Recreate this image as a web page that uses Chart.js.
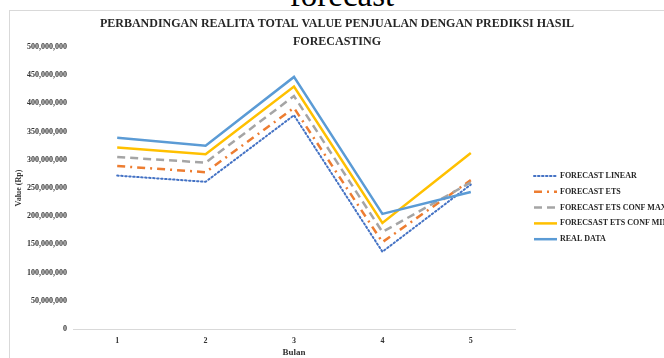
<!DOCTYPE html>
<html lang="en">
<head>
    <meta charset="UTF-8">
    <title>Perbandingan Realita Total Value Penjualan</title>
    <style>
        body {
            margin: 0;
            background-color: #fff;
            overflow: hidden;
            width: 664px;
            height: 358px;
            position: relative;
        }

        /* cut-off caption above the chart */
        #caption {
            position: absolute;
            left: 10px;
            width: 664px;
            top: -21px;
            text-align: center;
            font-family: "Liberation Serif", serif;
            font-size: 33px;
            line-height: 32px;
            color: #000;
        }

        /* chart frame */
        #frame {
            position: absolute;
            left: 9px;
            top: 10px;
            width: 720px;
            height: 420px;
            border: 1px solid #d9d9d9;
        }

        #chart-container {
            position: absolute;
            left: 0;
            top: 0;
            width: 674px;
            height: 358px;
        }
    </style>
</head>
<body>
    <div id="caption">forecast</div>
    <div id="frame"></div>
    <div id="chart-container">
        <canvas id="myChart" width="674" height="358"></canvas>
    </div>

    <script src="https://cdn.jsdelivr.net/npm/chart.js"></script>
    <script>
        // Data
        const months = ['1', '2', '3', '4', '5'];
        const forecastLinear = [272000000, 261000000, 379000000, 137000000, 256000000];
        const forecastEts = [289000000, 278000000, 392000000, 154000000, 264000000];
        const forecastEtsMax = [305000000, 295000000, 413000000, 172000000, 260000000];
        const forecastEtsMin = [322000000, 310000000, 430000000, 188000000, 312000000];
        const realData = [339000000, 325000000, 447000000, 204000000, 243000000];

        const titleLines = ['PERBANDINGAN REALITA TOTAL VALUE PENJUALAN DENGAN PREDIKSI HASIL', 'FORECASTING'];
        const seriesNames = ['FORECAST LINEAR', 'FORECAST ETS', 'FORECAST ETS CONF MAX', 'FORECSAST ETS CONF MIN', 'REAL DATA'];

        const serif = '"Liberation Serif", "Times New Roman", serif';

        function formatNumber(v) {
            return String(v).replace(/\B(?=(\d{3})+(?!\d))/g, ',');
        }

        // Title and legend drawn on top of the chart
        const overlayPlugin = {
            id: 'overlay',
            afterDraw(chart) {
                const ctx = chart.ctx;
                ctx.save();
                ctx.fillStyle = '#262626';
                ctx.font = 'bold 12px ' + serif;
                ctx.textAlign = 'center';
                ctx.textBaseline = 'middle';
                titleLines.forEach((line, i) => {
                    ctx.fillText(line, 337, 24 + i * 18);
                });

                // legend
                ctx.font = 'bold 8px ' + serif;
                ctx.textAlign = 'left';
                chart.data.datasets.forEach((ds, i) => {
                    const y = 176 + i * 15.8;
                    ctx.strokeStyle = ds.borderColor;
                    ctx.lineWidth = ds.borderWidth;
                    ctx.lineCap = ds.borderCapStyle || 'butt';
                    ctx.setLineDash(ds.borderDash || []);
                    ctx.beginPath();
                    ctx.moveTo(534, y);
                    ctx.lineTo(557, y);
                    ctx.stroke();
                    ctx.setLineDash([]);
                    ctx.fillStyle = '#262626';
                    ctx.fillText(ds.label, 560, y);
                });
                ctx.restore();
            }
        };

        const ctx = document.getElementById('myChart').getContext('2d');
        const myChart = new Chart(ctx, {
            type: 'line',
            data: {
                labels: months,
                datasets: [{
                    label: seriesNames[0],
                    data: forecastLinear,
                    borderColor: '#4472c4',
                    borderWidth: 2,
                    borderDash: [1.5, 2.5],
                    borderCapStyle: 'round',
                    order: 5
                }, {
                    label: seriesNames[1],
                    data: forecastEts,
                    borderColor: '#ed7d31',
                    borderWidth: 2.5,
                    borderDash: [8, 5, 2, 5],
                    order: 4
                }, {
                    label: seriesNames[2],
                    data: forecastEtsMax,
                    borderColor: '#a5a5a5',
                    borderWidth: 2.5,
                    borderDash: [8, 5],
                    order: 3
                }, {
                    label: seriesNames[3],
                    data: forecastEtsMin,
                    borderColor: '#ffc000',
                    borderWidth: 2.5,
                    order: 2
                }, {
                    label: seriesNames[4],
                    data: realData,
                    borderColor: '#5b9bd5',
                    borderWidth: 2.5,
                    order: 1
                }]
            },
            options: {
                responsive: false,
                animation: false,
                layout: {
                    padding: { left: 9, right: 159, top: 47, bottom: 0 }
                },
                elements: {
                    point: { radius: 0 },
                    line: { tension: 0, fill: false }
                },
                scales: {
                    x: {
                        offset: true,
                        grid: { display: false, drawTicks: false },
                        border: { display: true, color: '#d9d9d9', width: 1 },
                        ticks: {
                            padding: 7,
                            color: '#333',
                            font: { family: serif, size: 8, weight: 'bold' }
                        },
                        title: {
                            display: true,
                            text: 'Bulan',
                            color: '#333',
                            padding: 0,
                            font: { family: serif, size: 9, weight: 'bold' }
                        },
                        afterFit(scale) { scale.height = 29; }
                    },
                    y: {
                        min: 0,
                        max: 500000000,
                        grid: { display: false, drawTicks: false },
                        border: { display: false },
                        ticks: {
                            stepSize: 50000000,
                            padding: 6,
                            color: '#333',
                            font: { family: serif, size: 8, weight: 'bold' },
                            callback: (v) => formatNumber(v)
                        },
                        title: {
                            display: true,
                            text: 'Value (Rp)',
                            color: '#333',
                            padding: { top: 5, bottom: 0 },
                            font: { family: serif, size: 8, weight: 'bold' }
                        },
                        afterFit(scale) { scale.width = 64; }
                    }
                },
                plugins: {
                    legend: { display: false },
                    title: { display: false },
                    tooltip: { enabled: false }
                }
            },
            plugins: [overlayPlugin]
        });
    </script>
</body>
</html>
